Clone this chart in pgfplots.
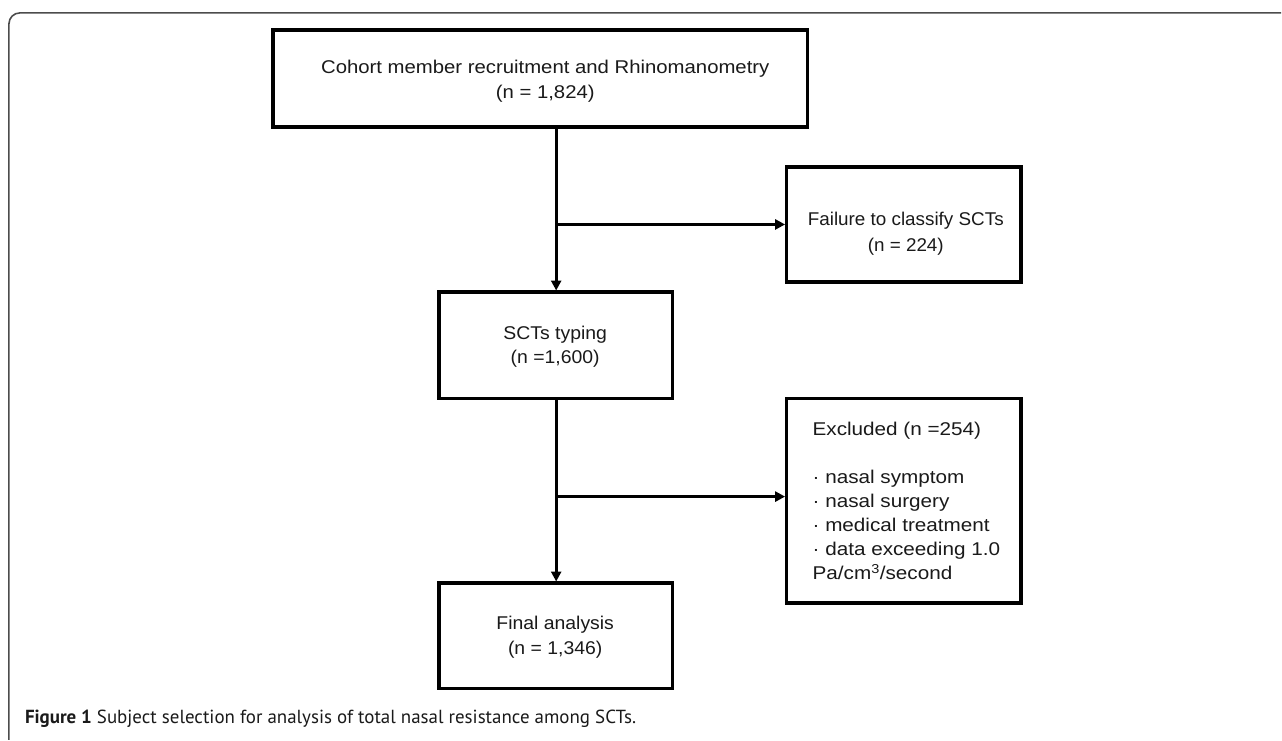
\documentclass[border=0pt]{standalone}
\usepackage{pgfplots}
\pgfplotsset{compat=1.18}
\usetikzlibrary{arrows.meta}
\usepackage{fontspec}
\setmainfont{Liberation Sans}
\newfontfamily\capfont{PT Sans}
\definecolor{txt}{HTML}{1A1A1A}
\newcommand{\ctext}[3]{\scalebox{#1}[1]{\fontsize{18.6}{#2}\selectfont\begin{tabular}{@{}c@{}}#3\end{tabular}}}
\newcommand{\ltext}[3]{\scalebox{#1}[1]{\fontsize{18.6}{#2}\selectfont\begin{tabular}{@{}l@{}}#3\end{tabular}}}
\begin{document}
\begin{tikzpicture}
\begin{axis}[
  scale only axis, width=1282pt, height=738pt,
  xmin=0, xmax=1282, ymin=0, ymax=738, y dir=reverse,
  hide axis, clip=false,
]
% background
\addplot[fill=white, draw=none, forget plot] coordinates {(0,0) (1282,0) (1282,738) (0,738)};
% outer frame
\addplot[line width=1.6pt, color=black!70, rounded corners=11pt] coordinates {(9,745) (9,13) (1290,13)};
% boxes
\pgfplotsset{box/.style={line width=3.5pt, black, line cap=rect, line join=miter}}
\addplot[box] coordinates {(275,30) (813,30) (813,128) (275,128) (275,30)};
\addplot[box] coordinates {(442,294) (677,294) (677,401) (442,401) (442,294)};
\addplot[box] coordinates {(792,168) (1028,168) (1028,284) (792,284) (792,168)};
\addplot[box] coordinates {(792,401) (1028,401) (1028,607) (792,607) (792,401)};
\addplot[box] coordinates {(442,587) (677,587) (677,693) (442,693) (442,587)};
% connectors
\pgfplotsset{conn/.style={line width=3pt, black, -{Triangle[length=10pt,width=10pt]}}}
\addplot[conn] coordinates {(560,128) (560,292.5)};
\addplot[conn] coordinates {(560,226) (790.5,226)};
\addplot[conn] coordinates {(560,401) (560,585.5)};
\addplot[conn] coordinates {(560,500) (790.5,500)};
% texts
\node[txt, inner sep=0pt] at (axis cs:549,81.5) {\ctext{1.1}{25}{Cohort member recruitment and Rhinomanometry\\(n = 1,824)}};
\node[txt, inner sep=0pt] at (axis cs:912,235) {\ctext{1.02}{26}{Failure to classify SCTs\\(n = 224)}};
\node[txt, inner sep=0pt] at (axis cs:559,349) {\ctext{1.05}{24}{SCTs typing\\(n =1,600)}};
\node[txt, inner sep=0pt] at (axis cs:559,641) {\ctext{1.05}{25}{Final analysis\\(n = 1,346)}};
\node[txt, inner sep=0pt, anchor=west] at (axis cs:818,505.8) {\ltext{1.12}{24.2}{Excluded (n =254)\\ \\ · nasal symptom\\ · nasal surgery\\ · medical treatment\\ · data exceeding 1.0\\ Pa/cm\textsuperscript{3}/second}};
\node[txt, font=\capfont\fontsize{19.07}{22}\selectfont, anchor=base west, inner sep=0pt] at (axis cs:25,728) {\textbf{Figure 1} Subject selection for analysis of total nasal resistance among SCTs.};
\end{axis}
\end{tikzpicture}
\end{document}
